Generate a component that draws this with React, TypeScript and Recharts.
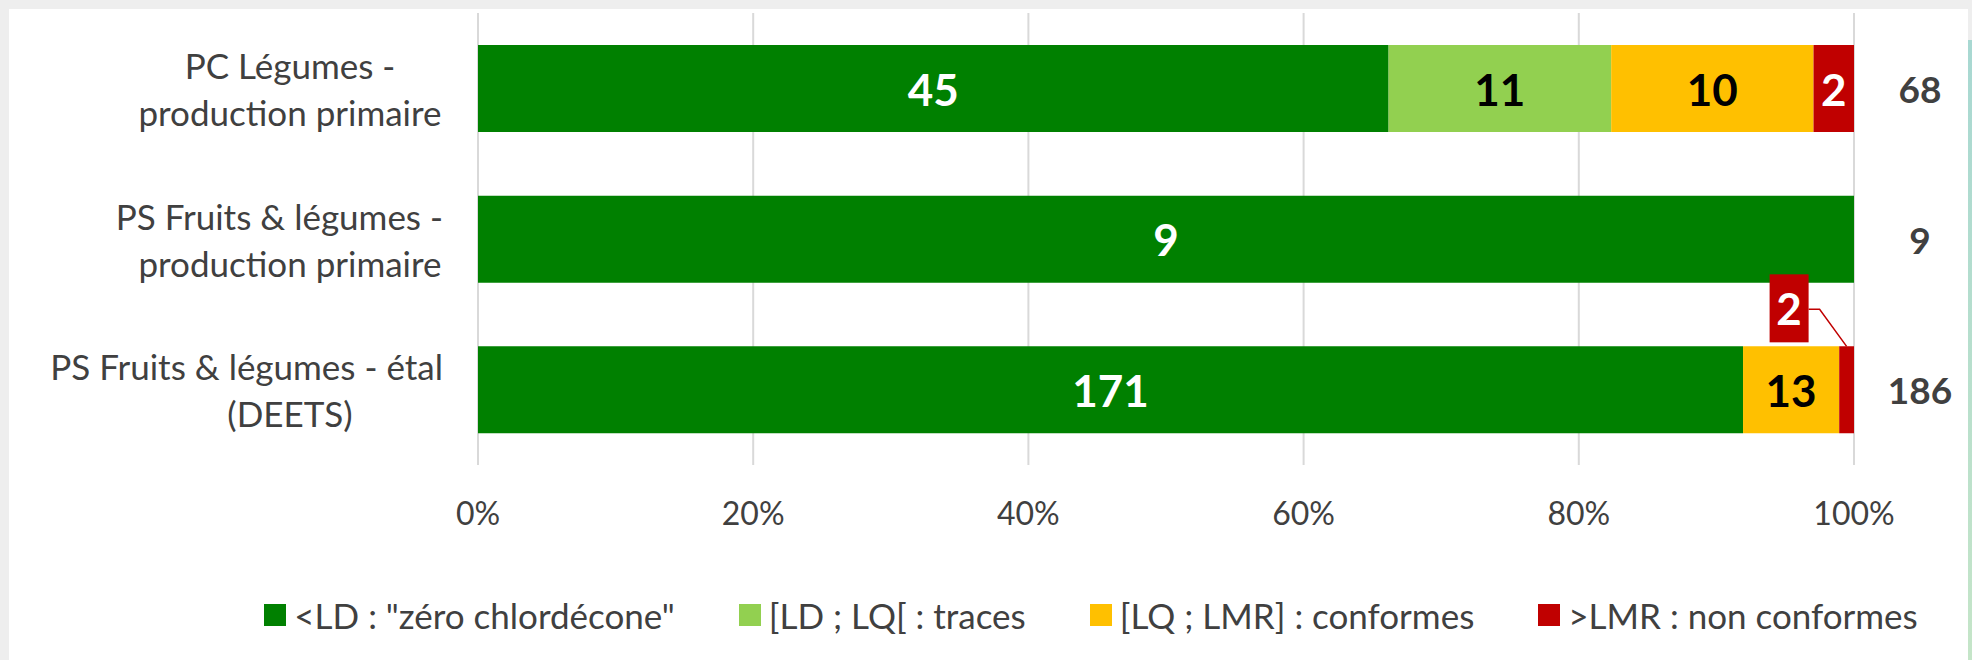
import { BarChart, Bar, XAxis, YAxis, CartesianGrid, LabelList } from 'recharts';

// Chlordécone results per sampling plan (number of samples)
const categories = [
  'PC Légumes -\nproduction primaire',
  'PS Fruits & légumes -\nproduction primaire',
  'PS Fruits & légumes - étal\n(DEETS)',
];
const zeroChlordecone = [45, 9, 171];
const traces = [11, 0, 0];
const conformes = [10, 0, 13];
const nonConformes = [2, 0, 2];
const totals = [68, 9, 186];
const xTicks = [0, 0.2, 0.4, 0.6, 0.8, 1];

const seriesNames = ['<LD : "zéro chlordécone"', '[LD ; LQ[ : traces', '[LQ ; LMR] : conformes', '>LMR : non conformes'];
const seriesColors = ['#008000', '#92d050', '#ffc000', '#c00000'];
const labelColors = ['#ffffff', '#000000', '#000000', '#ffffff'];
const seriesKeys = ['ld', 'traces', 'conformes', 'lmr'];
const seriesValues = [zeroChlordecone, traces, conformes, nonConformes];

const data = categories.map((name, i) => ({
  name,
  total: String(totals[i]),
  ld: zeroChlordecone[i],
  traces: traces[i],
  conformes: conformes[i],
  lmr: nonConformes[i],
}));

const FONT = 'Lato, "Open Sans", sans-serif';
const CAT_FONT_SIZE = 35;

let measureCtx: CanvasRenderingContext2D | null = null;
const textWidth = (s: string) => {
  if (!measureCtx) {
    measureCtx = document.createElement('canvas').getContext('2d');
  }
  if (!measureCtx) return s.length * CAT_FONT_SIZE * 0.5;
  measureCtx.font = `${CAT_FONT_SIZE}px Lato, "Open Sans", sans-serif`;
  return measureCtx.measureText(s).width;
};

// Excel-like wrapped label: lines centred, but kept left of the plot edge
const CategoryTick = (props: any) => {
  const { x, y, payload } = props;
  const lines = String(payload.value).split('\n');
  const cx = x - 188;
  const rightLimit = x - 35;
  const lh = 47;
  const y0 = y - ((lines.length - 1) * lh) / 2;
  return (
    <g>
      {lines.map((l, i) => {
        const w = textWidth(l);
        const lx = Math.min(cx, rightLimit - w / 2);
        return (
          <text key={i} x={lx} y={y0 + i * lh} textAnchor="middle" dominantBaseline="central"
            fill="#404040" fontSize={CAT_FONT_SIZE} fontFamily={FONT}>{l}</text>
        );
      })}
    </g>
  );
};

const TotalTick = (props: any) => {
  const { x, y, payload } = props;
  return (
    <text x={x + 66} y={y} textAnchor="middle" dominantBaseline="central" fill="#404040" fontWeight={700} fontSize={37} fontFamily={FONT}>
      {payload.value}
    </text>
  );
};

const makeLabel = (si: number) => (props: any) => {
  const { x, y, width, height, value } = props;
  const idx = categories.indexOf(value);
  const v = seriesValues[si][idx];
  if (!v) return null;
  const cy = y + height / 2;
  if (si === 3 && width < 25) {
    // callout for the thin red segment
    const segCx = x + width / 2;
    const bx = segCx - 77;
    const by = y - 72;
    return (
      <g>
        <polyline points={`${bx + 39},${by + 35} ${bx + 50},${by + 35} ${segCx},${y}`} fill="none" stroke="#c00000" strokeWidth={1.5} />
        <rect x={bx} y={by} width={39} height={68} fill="#c00000" />
        <text x={bx + 19.5} y={by + 34} textAnchor="middle" dominantBaseline="central" fill="#fff" fontWeight={700} fontSize={44} fontFamily={FONT}>{v}</text>
      </g>
    );
  }
  return (
    <text x={x + width / 2} y={cy} textAnchor="middle" dominantBaseline="central" fill={labelColors[si]} fontWeight={700} fontSize={44} fontFamily={FONT}>{v}</text>
  );
};

export default function App() {
  return (
    <div style={{ position: 'absolute', left: 0, top: 0, width: 1972, height: 660, background: '#eeeeee', overflow: 'hidden', fontFamily: FONT }}>
      <div style={{ position: 'absolute', left: 9, top: 9, width: 1959, height: 651, background: '#ffffff' }} />
      <div style={{ position: 'absolute', left: 1968, top: 40, width: 4, height: 620, background: 'linear-gradient(#a8d8d2, #c5e5c8)' }} />
      <div style={{ position: 'absolute', left: 0, top: 0 }}>
        <BarChart width={1972} height={660} data={data} layout="vertical" stackOffset="expand"
          margin={{ top: 13, right: 0, bottom: 135, left: 0 }}>
          <CartesianGrid horizontal={false} stroke="#d9d9d9" strokeWidth={2} />
          <XAxis type="number" domain={[0, 1]} ticks={xTicks} axisLine={false} tickLine={false}
            tickSize={0} tickMargin={37} height={60}
            tickFormatter={(v: number) => `${Math.round(v * 100)}%`}
            tick={{ fill: '#404040', fontSize: 32, fontFamily: FONT }} />
          <YAxis type="category" dataKey="name" width={478} axisLine={false} tickLine={false}
            tickSize={0} tickMargin={0} tick={<CategoryTick />} interval={0} />
          <YAxis yAxisId="totals" orientation="right" type="category" dataKey="total" width={118}
            axisLine={false} tickLine={false} tickSize={0} tickMargin={0} tick={<TotalTick />} interval={0} />
          {seriesKeys.map((k, si) => (
            <Bar key={k} dataKey={k} stackId="a" fill={seriesColors[si]} barSize={87} isAnimationActive={false}>
              <LabelList dataKey="name" content={makeLabel(si)} />
            </Bar>
          ))}
        </BarChart>
      </div>
      <div style={{ position: 'absolute', left: 0, top: 593, width: 2182, height: 44, display: 'flex', justifyContent: 'center', alignItems: 'center' }}>
        {seriesNames.map((n, i) => (
          <div key={n} style={{ display: 'flex', alignItems: 'center', marginRight: i < 3 ? 64 : 0 }}>
            <div style={{ width: 22, height: 22, background: seriesColors[i], marginRight: 8 }} />
            <span style={{ fontSize: 35, color: '#404040', whiteSpace: 'pre' }}>{n}</span>
          </div>
        ))}
      </div>
    </div>
  );
}
